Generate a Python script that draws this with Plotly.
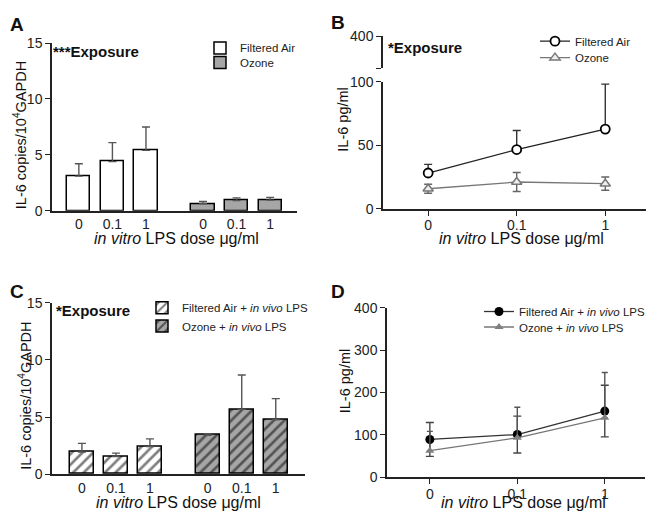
import plotly.graph_objects as go

# ---------------- data ----------------
doses = ["0", "0.1", "1"]

# Panel A (IL-6 copies / 10^4 GAPDH)
a_fa = [3.1, 4.4, 5.4]
a_fa_err = [1.1, 1.7, 2.1]
a_oz = [0.63, 0.92, 0.95]
a_oz_err = [0.2, 0.23, 0.25]

# Panel B (IL-6 pg/ml)
b_fa = [28.2, 46.7, 62.8]
b_fa_err = [6.8, 15.0, 35.4]
b_oz = [15.8, 21.1, 19.8]
b_oz_err = [3.5, 7.5, 5.2]

# Panel C (IL-6 copies / 10^4 GAPDH, in vivo LPS)
c_fa = [1.95, 1.55, 2.43]
c_fa_err = [0.75, 0.3, 0.67]
c_oz = [3.42, 5.68, 4.77]
c_oz_err = [0.14, 3.0, 1.85]

# Panel D (IL-6 pg/ml, in vivo LPS)
d_fa = [89, 100.6, 156]
d_fa_err = [40, 43.5, 61]
d_oz = [62.5, 93, 140]
d_oz_err = [45.5, 72, 107]

bar_ticks = doses + doses
y_ticks_copies = [0, 5, 10, 15]
y_ticks_b = [0, 50, 100]
y_ticks_d = [0, 100, 200, 300, 400]

# ---------------- helpers ----------------
PAGE_W, PAGE_H = 654, 522
OFF = 8  # default body margin of the html page
W, H = PAGE_W - OFF, PAGE_H - OFF
FONT = "Arial, 'Liberation Sans', sans-serif"
AX = "#222222"
GRAY = "#a6a6a6"
ERR = "#555555"


def px(x):
    return (x - OFF) / W


def py(y):
    return 1 - (y - OFF) / H


GAP = 3.7
fa_pos = [i for i in range(len(doses))]
oz_pos = [i + GAP for i in range(len(doses))]

fig = go.Figure()


def err(vals, width=4, color=ERR, sym=False):
    d = dict(type="data", array=vals, color=color, thickness=1.4, width=width, visible=True)
    if sym:
        d["symmetric"] = True
    else:
        d["symmetric"] = False
        d["arrayminus"] = [0] * len(vals)
    return d


# Panel A
fig.add_trace(go.Bar(x=fa_pos, y=a_fa, width=0.69, name="Filtered Air",
                     marker=dict(color="white", line=dict(color="black", width=1.5)),
                     error_y=err(a_fa_err), xaxis="x", yaxis="y", legend="legend"))
fig.add_trace(go.Bar(x=oz_pos, y=a_oz, width=0.69, name="Ozone",
                     marker=dict(color=GRAY, line=dict(color="black", width=1.5)),
                     error_y=err(a_oz_err), xaxis="x", yaxis="y", legend="legend2"))

# Panel B
fig.add_trace(go.Scatter(x=doses, y=b_fa, mode="lines+markers", name="Filtered Air",
                         line=dict(color="#222222", width=1.3),
                         marker=dict(symbol="circle", size=9, color="white",
                                     line=dict(color="black", width=1.8)),
                         error_y=err(b_fa_err, width=4, color="#333333"),
                         xaxis="x2", yaxis="y2", legend="legend3"))
fig.add_trace(go.Scatter(x=doses, y=b_oz, mode="lines+markers", name="Ozone",
                         line=dict(color="#777777", width=1.3),
                         marker=dict(symbol="triangle-up", size=9, color="#eeeeee",
                                     line=dict(color="#777777", width=1.5)),
                         error_y=err(b_oz_err, width=4, color="#666666", sym=True),
                         xaxis="x2", yaxis="y2", legend="legend4"))
# broken top segment of panel B axis
fig.add_trace(go.Scatter(x=[], y=[], xaxis="x2", yaxis="y5", showlegend=False))

# Panel C
fig.add_trace(go.Bar(x=fa_pos, y=c_fa, width=0.7, name="Filtered Air + <i>in vivo</i> LPS",
                     marker=dict(color="white", line=dict(color="black", width=1.5),
                                 pattern=dict(shape="/", fgcolor="black", bgcolor="white",
                                              size=7.5, solidity=0.35)),
                     error_y=err(c_fa_err), xaxis="x3", yaxis="y3", legend="legend5"))
fig.add_trace(go.Bar(x=oz_pos, y=c_oz, width=0.7, name="Ozone + <i>in vivo</i> LPS",
                     marker=dict(color=GRAY, line=dict(color="black", width=1.5),
                                 pattern=dict(shape="/", fgcolor="black", bgcolor=GRAY,
                                              size=7.5, solidity=0.35)),
                     error_y=err(c_oz_err), xaxis="x3", yaxis="y3", legend="legend6"))

# Panel D
fig.add_trace(go.Scatter(x=doses, y=d_fa, mode="lines+markers", name="Filtered Air + <i>in vivo</i> LPS",
                         line=dict(color="#333333", width=1.3),
                         marker=dict(symbol="circle", size=9, color="black"),
                         error_y=err(d_fa_err, width=4, color="#444444", sym=True),
                         xaxis="x4", yaxis="y4", legend="legend7"))
fig.add_trace(go.Scatter(x=doses, y=d_oz, mode="lines+markers", name="Ozone + <i>in vivo</i> LPS",
                         line=dict(color="#777777", width=1.3),
                         marker=dict(symbol="triangle-up", size=8, color="#808080"),
                         error_y=err(d_oz_err, width=3, color="#555555"),
                         xaxis="x4", yaxis="y4", legend="legend8"))

tickfont = dict(family=FONT, size=14, color="#222222")
ax_common = dict(showgrid=False, zeroline=False, showline=True, linecolor=AX, linewidth=1.5,
                 tickfont=tickfont, tickcolor=AX, tickwidth=1.3)

layout = dict(
    width=W, height=H, autosize=False,
    margin=dict(l=0, r=0, t=0, b=0),
    paper_bgcolor="white", plot_bgcolor="rgba(0,0,0,0)",
    font=dict(family=FONT, color="#222222"),
    bargap=0, showlegend=True,
    # Panel A
    xaxis=dict(domain=[px(52), px(297)], anchor="y", range=[-0.8, 6.5],
               tickmode="array", tickvals=fa_pos + oz_pos, ticktext=bar_ticks, ticks="", **ax_common),
    yaxis=dict(domain=[py(209), py(36)], anchor="x", range=[0, 15],
               tickmode="array", tickvals=y_ticks_copies, ticks="outside", ticklen=5, **ax_common),
    # Panel B
    xaxis2=dict(domain=[px(383), px(646)], anchor="y2", range=[-0.51, 2.46], type="category",
                ticks="outside", ticklen=5, ticklabelstandoff=-2, **ax_common),
    yaxis2=dict(domain=[py(207), py(76)], anchor="x2", range=[0, 100],
                tickmode="array", tickvals=y_ticks_b, ticks="outside", ticklen=5, **ax_common),
    yaxis5=dict(domain=[py(62), py(29)], anchor="x2", range=[300, 400],
                tickmode="array", tickvals=[300, 400], ticktext=[" ", "400"],
                ticks="outside", ticklen=5, **ax_common),
    # Panel C
    xaxis3=dict(domain=[px(52), px(305)], anchor="y3", range=[-0.88, 6.56],
                tickmode="array", tickvals=fa_pos + oz_pos, ticktext=bar_ticks, ticks="", **ax_common),
    yaxis3=dict(domain=[py(481), py(304)], anchor="x3", range=[0, 15],
                tickmode="array", tickvals=y_ticks_copies, ticks="outside", ticklen=5, **ax_common),
    # Panel D
    xaxis4=dict(domain=[px(387), px(645)], anchor="y4", range=[-0.49, 2.46], type="category",
                ticks="outside", ticklen=5, ticklabelstandoff=-2, **ax_common),
    yaxis4=dict(domain=[py(484), py(309)], anchor="x4", range=[0, 400],
                tickmode="array", tickvals=y_ticks_d, ticks="outside", ticklen=5, **ax_common),
)

leg_font = dict(family=FONT, size=11.5, color="#222222")


def leg(xp, yp):
    return dict(x=px(xp), y=py(yp), xanchor="left", yanchor="middle", font=leg_font,
                bgcolor="rgba(0,0,0,0)", borderwidth=0, itemwidth=30)


layout["legend"] = leg(200, 41)
layout["legend2"] = leg(200, 56)
layout["legend3"] = leg(535, 34)
layout["legend4"] = leg(535, 51)
layout["legend5"] = leg(142, 309)
layout["legend6"] = leg(142, 328)
layout["legend7"] = leg(479, 313)
layout["legend8"] = leg(479, 329)

fig.update_layout(**layout)

xtitle = "<i>in vitro</i> LPS dose μg/ml"
ann = []


def text(x, y, s, size, bold=False, angle=0, xanchor="center"):
    ann.append(dict(x=px(x), y=py(y), xref="paper", yref="paper", text=(f"<b>{s}</b>" if bold else s),
                    showarrow=False, xanchor=xanchor, yanchor="middle", textangle=angle,
                    font=dict(family=FONT, size=size, color="#111111")))


# panel letters
text(8, 17, "A", 19, bold=True, xanchor="left")
text(329, 15, "B", 19, bold=True, xanchor="left")
text(8, 292, "C", 19, bold=True, xanchor="left")
text(329, 292, "D", 19, bold=True, xanchor="left")
# exposure notes
text(51, 45, "***Exposure", 15, bold=True, xanchor="left")
text(386, 41, "*Exposure", 15, bold=True, xanchor="left")
text(54, 312, "*Exposure", 15, bold=True, xanchor="left")
# x titles
text(176, 238, xtitle, 16)
text(521, 238, xtitle, 16)
text(178, 510, xtitle, 16)
text(523, 510, xtitle, 16)
# y titles
text(20, 131, "IL-6 copies/10<sup>4</sup>GAPDH", 14.5, angle=-90)
text(343, 115, "IL-6 pg/ml", 14.5, angle=-90)
text(25, 400, "IL-6 copies/10<sup>4</sup>GAPDH", 14.5, angle=-90)
text(345, 385, "IL-6 pg/ml", 14.5, angle=-90)

fig.update_layout(annotations=ann)
fig.write_html("out.html")
